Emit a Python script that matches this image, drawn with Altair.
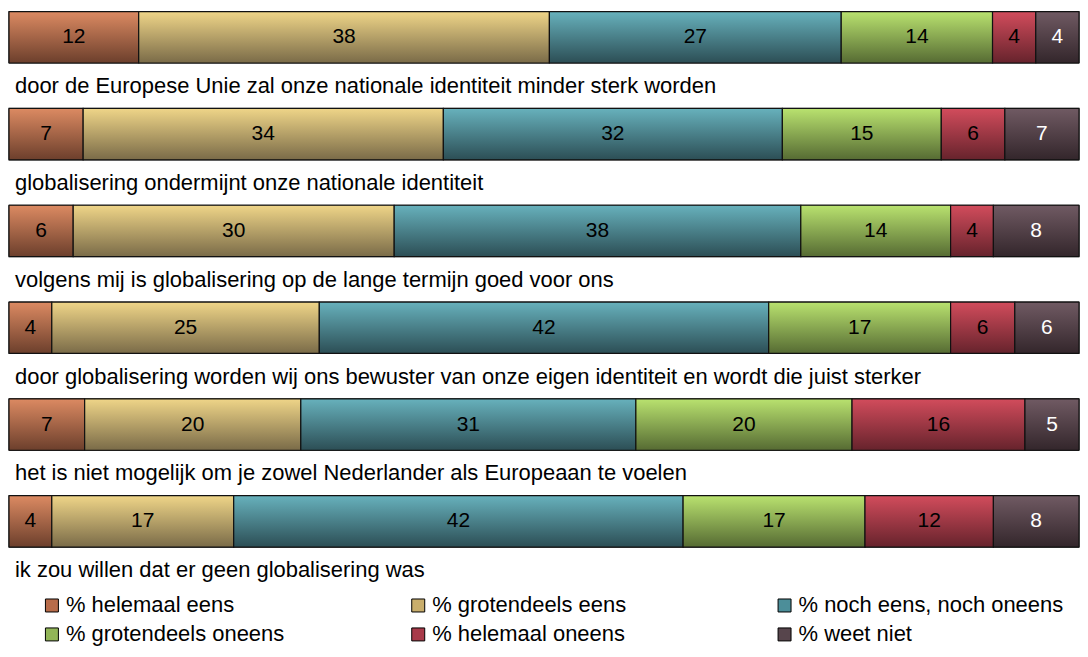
import altair as alt
import pandas as pd

statements = [
    "door de Europese Unie zal onze nationale identiteit minder sterk worden",
    "globalisering ondermijnt onze nationale identiteit",
    "volgens mij is globalisering op de lange termijn goed voor ons",
    "door globalisering worden wij ons bewuster van onze eigen identiteit en wordt die juist sterker",
    "het is niet mogelijk om je zowel Nederlander als Europeaan te voelen",
    "ik zou willen dat er geen globalisering was",
]
categories = [
    "% helemaal eens",
    "% grotendeels eens",
    "% noch eens, noch oneens",
    "% grotendeels oneens",
    "% helemaal oneens",
    "% weet niet",
]
helemaal_eens = [12, 7, 6, 4, 7, 4]
grotendeels_eens = [38, 34, 30, 25, 20, 17]
noch_eens_noch_oneens = [27, 32, 38, 42, 31, 42]
grotendeels_oneens = [14, 15, 14, 17, 20, 17]
helemaal_oneens = [4, 6, 4, 6, 16, 12]
weet_niet = [4, 7, 8, 6, 5, 8]
series = [helemaal_eens, grotendeels_eens, noch_eens_noch_oneens,
          grotendeels_oneens, helemaal_oneens, weet_niet]

top_colors = ["#dc8a62", "#efd588", "#67b1bc", "#b9e26f", "#d24c5c", "#705a63"]
bottom_colors = ["#6c3f2c", "#7a6b48", "#2c4e55", "#566b33", "#66232c", "#33262b"]
legend_colors = ["#b86c4a", "#c9ae6c", "#4c8e99", "#92b558", "#a83a49", "#57454c"]
label_colors = ["#000000", "#000000", "#000000", "#000000", "#000000", "#ffffff"]

rows = []
for si, s in enumerate(statements):
    for ci, c in enumerate(categories):
        rows.append({"statement": s, "category": c, "order": ci,
                     "value": series[ci][si], "lab": label_colors[ci]})
df = pd.DataFrame(rows)

FONT = "Liberation Sans"

base = alt.Chart(df).transform_stack(
    stack="value", groupby=["statement"], as_=["x0", "x1"],
    offset="normalize", sort=[alt.SortField("order")]
)

xs = alt.Scale(domain=[0, 1], nice=False, zero=False)
ys = alt.Scale(domain=statements, paddingInner=0.469, paddingOuter=0.031)

legend_layer = base.mark_bar(stroke="#000", strokeWidth=1).encode(
    x=alt.X("x0:Q", scale=xs, axis=None),
    x2="x1:Q",
    y=alt.Y("statement:N", scale=ys, axis=None, sort=statements),
    color=alt.Color(
        "category:N",
        scale=alt.Scale(domain=categories, range=legend_colors),
        sort=categories,
        legend=alt.Legend(
            title=None, orient="none", legendX=32, legendY=587,
            columns=3, direction="horizontal", gridAlign="all",
            columnPadding=76, rowPadding=7, padding=0,
            symbolType="square", symbolSize=169, symbolStrokeColor="#000",
            symbolStrokeWidth=1, symbolOffset=0, labelOffset=3,
            labelFont=FONT, labelFontSize=22, labelColor="#000",
            labelLimit=400,
        ),
    ),
)

grad_layers = []
for ci, c in enumerate(categories):
    grad = alt.LinearGradient(
        gradient="linear",
        stops=[alt.GradientStop(offset=0, color=top_colors[ci]),
               alt.GradientStop(offset=1, color=bottom_colors[ci])],
        x1=0, x2=0, y1=0, y2=1,
    )
    grad_layers.append(
        base.transform_filter(alt.datum.category == c)
        .mark_bar(color=grad, stroke="#111", strokeWidth=1.2)
        .encode(
            x=alt.X("x0:Q", scale=xs, axis=None),
            x2="x1:Q",
            y=alt.Y("statement:N", scale=ys, axis=None, sort=statements),
        )
    )

numbers = base.transform_calculate(xm="(datum.x0 + datum.x1) / 2").mark_text(
    font=FONT, fontSize=21, baseline="middle", align="center"
).encode(
    x=alt.X("xm:Q", scale=xs, axis=None),
    y=alt.Y("statement:N", scale=ys, axis=None, sort=statements),
    text="value:Q",
    color=alt.Color("lab:N", scale=None),
)

stmt_labels = base.transform_filter(alt.datum.order == 0).mark_text(
    font=FONT, fontSize=22, baseline="middle", align="left", dx=6, dy=49,
    color="#000"
).encode(
    x=alt.datum(0, scale=xs),
    y=alt.Y("statement:N", scale=ys, axis=None, sort=statements),
    text="statement:N",
)

chart = alt.layer(legend_layer, *grad_layers, numbers, stmt_labels).properties(
    width=1072, height=542.5, padding=0
).configure_view(stroke=None)

chart.save("out.html", embed_options={"renderer": "svg", "actions": False})
